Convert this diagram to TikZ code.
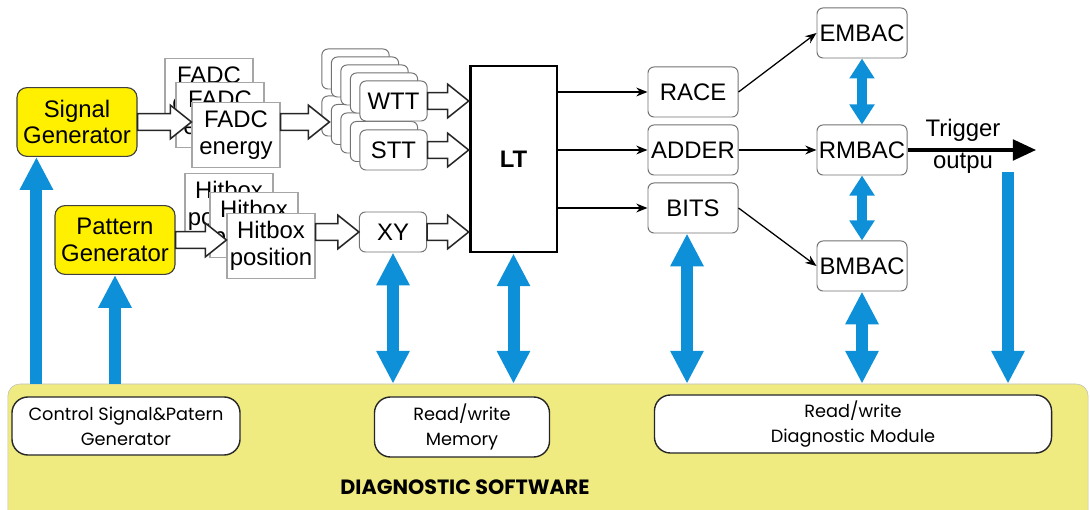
\documentclass[tikz,border=0pt]{standalone}
\usepackage{fontspec}
\setmainfont{Liberation Sans}
\newfontfamily\gothicfont{Poppins}
\usepackage{tikz}
\usetikzlibrary{arrows.meta,calc,positioning}
\definecolor{genyellow}{RGB}{255,240,0}
\definecolor{swyellow}{RGB}{240,235,128}
\definecolor{busblue}{RGB}{14,144,216}

\begin{document}
\begin{tikzpicture}[
    x=0.025cm, y=-0.025cm,
    every node/.style={font=\fontsize{17}{19}\selectfont, align=center, inner sep=0pt},
    genbox/.style={rectangle, draw=black!75, line width=0.8pt, fill=genyellow, rounded corners=0.25cm, minimum width=3.0cm, minimum height=1.72cm},
    cardbox/.style={rectangle, draw=black!35, line width=0.8pt, fill=white, minimum width=2.2cm, minimum height=1.63cm},
    tbox/.style={rectangle, draw=black!55, line width=0.7pt, fill=white, rounded corners=0.15cm, minimum width=1.68cm, minimum height=1.0cm},
    mbox/.style={rectangle, draw=black!55, line width=0.7pt, fill=white, rounded corners=0.15cm, minimum width=2.25cm, minimum height=1.25cm},
    ltbox/.style={rectangle, draw, line width=2pt, fill=white, minimum width=2.17cm, minimum height=4.65cm, font=\fontsize{17}{19}\selectfont\bfseries},
    swbg/.style={rectangle, draw=black!25, fill=swyellow, rounded corners=0.3cm, minimum width=27cm, minimum height=3.65cm},
    swbox/.style={rectangle, draw=black!85, line width=1pt, fill=white, rounded corners=0.4cm, font=\gothicfont\fontsize{12.6}{18}\selectfont},
    hollow/.style={draw=black!85, fill=white, line width=1.1pt, line join=miter,
        to path={let \p1=(\tikztostart), \p2=(\tikztotarget) in
        ({\x1},{\y1+6pt}) -- ({\x2-15pt},{\y1+6pt}) -- ({\x2-15pt},{\y1+12pt}) -- ({\x2},{\y1})
        -- ({\x2-15pt},{\y1-12pt}) -- ({\x2-15pt},{\y1-6pt}) -- ({\x1},{\y1-6pt}) -- cycle}},
    link/.style={line width=0.9pt, -{Stealth[length=0.28cm,width=0.22cm]}},
    trig/.style={line width=2.2pt, -{Triangle[length=0.58cm,width=0.52cm]}},
    bus/.style={busblue, line width=0.3cm, -{Triangle[width=0.78cm,length=0.82cm]}},
    busboth/.style={busblue, line width=0.3cm, {Triangle[width=0.78cm,length=0.82cm]}-{Triangle[width=0.78cm,length=0.82cm]}},
    busshort/.style={busblue, line width=0.24cm, {Triangle[width=0.6cm,length=0.5cm]}-{Triangle[width=0.6cm,length=0.5cm]}}
]
\useasboundingbox (0,0) rectangle (1090,510);

\node[swbg] (sw) at (548,457) {};
\node[font=\gothicfont\bfseries\fontsize{14.7}{16}\selectfont] (swlabel) at (465,487) {DIAGNOSTIC SOFTWARE};
\node[swbox, minimum width=5.7cm, minimum height=1.45cm] (ctrl) at (126,426) {Control Signal\&Patern\\Generator};
\node[swbox, minimum width=4.375cm, minimum height=1.5cm] (mem) at (462,427) {Read/write\\Memory};
\node[swbox, minimum width=9.925cm, minimum height=1.45cm] (diag) at (853,424) {Read/write\\Diagnostic Module};

\node[genbox] (siggen) at (77,122) {Signal\\Generator};
\node[genbox] (patgen) at (115,240) {Pattern\\Generator};

\node[cardbox] (fadcb1) at (209,91) {FADC\\energy};
\node[cardbox] (fadcb2) at (220,115) {FADC\\energy};
\node[cardbox] (fadc) at (236,135) {FADC\\energy};
\node[cardbox] (hitb1) at (229,206) {Hitbox\\position};
\node[cardbox] (hitb2) at (254,225) {Hitbox\\position};
\node[cardbox] (hit) at (271,246) {Hitbox\\position};

\foreach \i in {0,...,3}
    \node[tbox] (sttb\i) at ({355.5+9.5*\i},{116+8.5*\i}) {};
\node[tbox] (stt) at (393.5,150) {STT};
\foreach \i in {0,...,3}
    \node[tbox] (wttb\i) at ({355.5+9.5*\i},{69+8*\i}) {};
\node[tbox] (wtt) at (393.5,101) {WTT};
\node[tbox] (xy) at (393,232) {XY};

\node[ltbox] (lt) at (513.5,159) {LT};

\node[mbox] (race) at (693,92) {RACE};
\node[mbox] (adder) at (693,150) {ADDER};
\node[mbox] (bits) at (693,208) {BITS};
\node[mbox] (embac) at (862,33) {EMBAC};
\node[mbox] (rmbac) at (862,150) {RMBAC};
\node[mbox] (bmbac) at (862,266) {BMBAC};

\node (trigtxt) at (963,130) {Trigger};
\node (outtxt) at (963,163) {outpu};
\coordinate (trigend) at (1036,150);
\coordinate (tap) at (1008,172);

\draw[hollow] (siggen.east) to (fadc.west);
\draw[hollow] (fadc.east |- siggen.east) to ([xshift=0.2cm]sttb0.west);
\draw[hollow] (patgen.east) to (hit.west);
\draw[hollow] (hit.east |- xy.west) to (xy.west);
\draw[hollow] (wtt.east) to (wtt.east -| lt.west);
\draw[hollow] (stt.east) to (stt.east -| lt.west);
\draw[hollow] (xy.east) to (xy.east -| lt.west);

\draw[link] (race.west -| lt.east) -- (race.west);
\draw[link] (adder.west -| lt.east) -- (adder.west);
\draw[link] (bits.west -| lt.east) -- (bits.west);
\draw[link] (race.east) -- (embac.west);
\draw[link] (adder.east) -- (rmbac.west);
\draw[link] (bits.east) -- (bmbac.west);
\draw[trig] (rmbac.east) -- (trigend);

\draw[bus] ([xshift=0.5cm]siggen.south west |- sw.north) -- ([xshift=0.5cm]siggen.south west);
\draw[bus] (patgen.south |- sw.north) -- (patgen.south);
\draw[busboth] (xy.south) -- (xy.south |- sw.north);
\draw[busboth] (lt.south) -- (lt.south |- sw.north);
\draw[busboth] ([xshift=-0.15cm]bits.south) -- ([xshift=-0.15cm]bits.south |- sw.north);
\draw[busboth] (bmbac.south) -- (bmbac.south |- sw.north);
\draw[busshort] (embac.south) -- (rmbac.north);
\draw[busshort] (rmbac.south) -- (bmbac.north);
\draw[bus] (tap) -- (tap |- sw.north);

\end{tikzpicture}
\end{document}
